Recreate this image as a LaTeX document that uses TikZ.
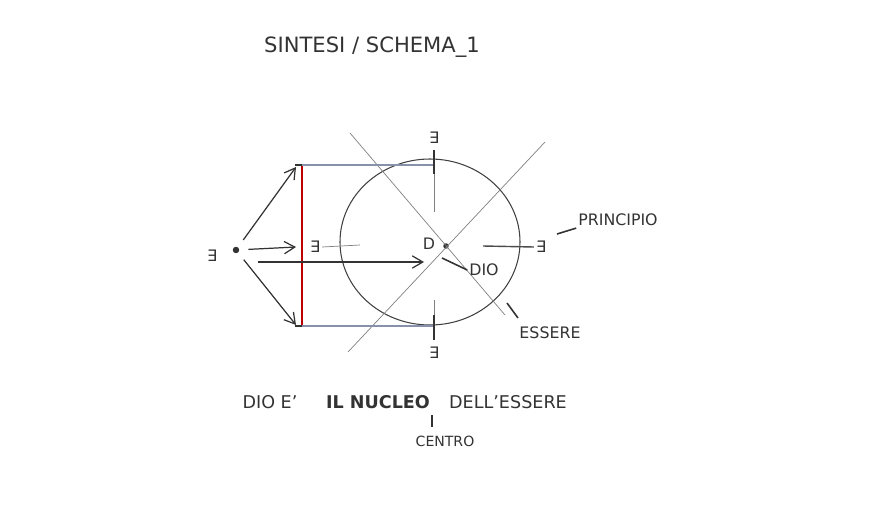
\documentclass[tikz,border=0pt]{standalone}
\usepackage{fontspec}
\setmainfont{DejaVu Sans}
\usetikzlibrary{arrows.meta}
\definecolor{guidegray}{RGB}{135,145,170}
\tikzset{
  hand/.style={font=\fontsize{9}{10}\selectfont, text=black!80, inner sep=1pt},
  pt/.style={circle, fill=black!80, inner sep=1.3pt},
  faint/.style={black!50, line width=0.4pt},
  guide/.style={guidegray, line width=0.6pt},
  arr/.style={-{Straight Barb[length=6pt,width=7pt]}, black!80, line width=0.7pt},
}
\begin{document}
\begin{tikzpicture}[x=0.02cm,y=-0.02cm]
  \useasboundingbox (0,0) rectangle (889,507);
  % title
  \node[hand, font=\fontsize{12}{13}\selectfont] (title) at (372,47) {SINTESI / SCHEMA\_1};

  % source point and its existence sign
  \node[pt] (src) at (236,250) {};
  \node[hand] (exL) at (212,256) {∃};

  % red segment with its ends
  \coordinate (segT) at (302,165);
  \coordinate (segB) at (302,326);
  \draw[red!75!black, line width=0.8pt] (segT) -- (segB);
  \draw[black!80, line width=0.8pt] ([xshift=-4pt]segT) -- ([xshift=2pt]segT);
  \draw[black!80, line width=0.8pt] ([xshift=-4pt]segB) -- ([xshift=2pt]segB);

  % being (the circle)
  \node (essere) at (430,242) {};
  \draw[black!75, line width=0.6pt] (essere.center) ellipse [x radius=90, y radius=83];

  % God at the nucleus
  \node[pt, inner sep=1.1pt] (dio) at (446,246) {};
  \node[hand] (d) at (429,244) {D};

  % diagonals
  \coordinate (nw) at (350,133);
  \coordinate (se) at (505,315);
  \coordinate (ne) at (545,142);
  \coordinate (sw) at (348,352);
  \draw[faint] (nw) -- (se);
  \draw[faint] (ne) -- (sw);

  % projections of the segment onto the circle
  \coordinate (tickT) at (434,165);
  \coordinate (tickB) at (434,326);
  \draw[guide] (segT) -- (tickT);
  \draw[guide] (segB) -- (tickB);

  % arrows from the source
  \coordinate (aT) at (296,167);
  \coordinate (aM) at (296,247);
  \coordinate (aB) at (296,325);
  \coordinate (aL) at (424,262);
  \draw[arr, shorten <=5pt] (src) -- (aT);
  \draw[arr, shorten <=5pt] (src) -- (aM);
  \draw[arr, shorten <=5pt] (src) -- (aB);
  \draw[arr] (258,262) -- (aL);

  % existence signs round the circle
  \node[hand] (exT) at (434,138) {∃};
  \node[hand] (exB) at (434,353) {∃};
  \node[hand] (exM) at (315,247) {∃};
  \node[hand] (exR) at (541,247) {∃};
  \draw[black!80, line width=0.9pt] (434,150) -- (434,174);
  \draw[faint] (434,174) -- (434,212);
  \draw[faint] (434,300) -- (434,315);
  \draw[black!80, line width=0.9pt] (434,315) -- (434,340);
  \draw[faint] (exM.east) -- (360,245);
  \draw[black!70, line width=0.8pt] (483,246) -- (exR.west);

  % labels
  \node[hand] (dioL) at (484,270) {DIO};
  \draw[black!80, line width=0.9pt] (442,258) -- (dioL.west);
  \node[hand] (princ) at (618,220) {PRINCIPIO};
  \draw[black!80, line width=0.9pt] (557,234) -- (princ.south west);
  \node[hand] (essL) at (550,333) {ESSERE};
  \draw[black!80, line width=0.9pt] (507,303) -- (518,318);

  % caption
  \node[hand, font=\fontsize{10}{11}\selectfont] (capA) at (270,402) {DIO E'};
  \node[hand, font=\fontsize{10}{11}\selectfont\bfseries] (capB) at (378,402) {IL NUCLEO};
  \node[hand, font=\fontsize{10}{11}\selectfont] (capC) at (508,402) {DELL'ESSERE};
  \node[hand, font=\fontsize{8}{9}\selectfont] (centro) at (445,441) {CENTRO};
  \draw[black!80, line width=0.7pt] (432,415) -- (432,427);
\end{tikzpicture}
\end{document}
